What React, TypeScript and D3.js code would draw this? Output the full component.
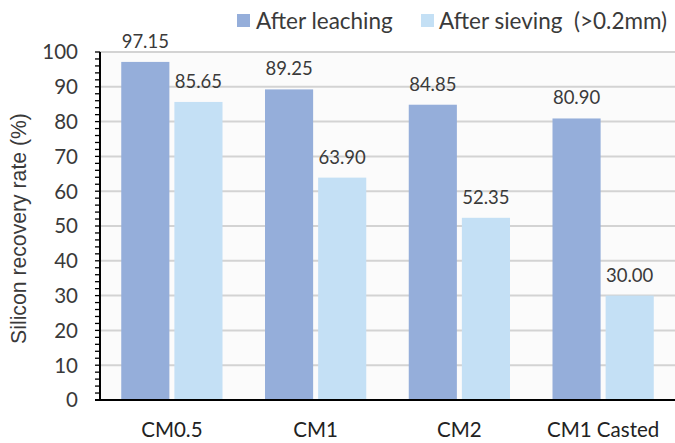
import React from "react";
import * as d3 from "d3";

const categories = ["CM0.5", "CM1", "CM2", "CM1 Casted"];
const seriesNames = ["After leaching", "After sieving  (>0.2mm)"];
const afterLeaching = [97.15, 89.25, 84.85, 80.9];
const afterSieving = [85.65, 63.9, 52.35, 30.0];
const yTicks = [0, 10, 20, 30, 40, 50, 60, 70, 80, 90, 100];
const minorTicks = d3.range(0, 101, 2);
const colors = ["#95AEDA", "#C4E0F5"];

const W = 675;
const H = 443;
const m = { left: 100, right: 0, top: 52, bottom: 43 };

export default function App() {
  const x0 = d3
    .scaleBand<string>()
    .domain(categories)
    .range([m.left, W - m.right])
    .paddingInner(0)
    .paddingOuter(0);
  const x1 = d3
    .scaleBand<number>()
    .domain([0, 1])
    .range([0, x0.bandwidth()])
    .paddingInner(0.094)
    .paddingOuter(0.4);
  const y = d3.scaleLinear().domain([0, 100]).range([H - m.bottom, m.top]);
  const series = [afterLeaching, afterSieving];
  const font = "Lato, 'Open Sans', sans-serif";
  const txt = "#3A3A3A";

  return (
    <svg
      width={W}
      height={H}
      style={{ position: "absolute", left: 0, top: 0, background: "#fff" }}
    >
      <rect x={m.left} y={m.top} width={W - m.left - m.right} height={y(0) - m.top} fill="#FBFBFB" />
      {yTicks.map((t) => (
        <line key={t} x1={m.left} x2={W} y1={y(t)} y2={y(t)} stroke="#D3D3D3" strokeWidth={2} />
      ))}
      {series.map((vals, si) =>
        categories.map((c, ci) => (
          <rect
            key={`${si}-${ci}`}
            x={(x0(c) as number) + (x1(si) as number)}
            y={y(vals[ci])}
            width={x1.bandwidth()}
            height={y(0) - y(vals[ci])}
            fill={colors[si]}
          />
        ))
      )}
      {series.map((vals, si) =>
        categories.map((c, ci) => (
          <text
            key={`l-${si}-${ci}`}
            x={(x0(c) as number) + (x1(si) as number) + x1.bandwidth() / 2}
            y={y(vals[ci]) - 14}
            textAnchor="middle"
            fontFamily={font}
            fontSize={18.5}
            fill={txt}
          >
            {vals[ci].toFixed(2)}
          </text>
        ))
      )}
      {/* y axis */}
      {minorTicks.map((t) => (
        <line key={`mt${t}`} x1={m.left - 5} x2={m.left} y1={y(t)} y2={y(t)} stroke="#000" strokeWidth={1.3} />
      ))}
      <line x1={m.left} x2={m.left} y1={y(100)} y2={y(0)} stroke="#000" strokeWidth={2} />
      <line x1={m.left - 5} x2={W} y1={y(0)} y2={y(0)} stroke="#000" strokeWidth={2} />
      {yTicks.map((t) => (
        <text
          key={`yt${t}`}
          x={m.left - 22}
          y={y(t)}
          dy="0.36em"
          textAnchor="end"
          fontFamily={font}
          fontSize={20.5}
          fill={txt}
        >
          {t}
        </text>
      ))}
      {categories.map((c) => (
        <text
          key={`xc${c}`}
          x={(x0(c) as number) + x0.bandwidth() / 2}
          y={y(0) + 37}
          textAnchor="middle"
          fontFamily={font}
          fontSize={20.5}
          fill="#222"
        >
          {c}
        </text>
      ))}
      <text
        transform={`translate(26,228.5) rotate(-90)`}
        textAnchor="middle"
        fontFamily="'Liberation Sans', Arial, sans-serif"
        fontSize={21.2}
        fill={txt}
      >
        Silicon recovery rate (%)
      </text>
      {/* legend */}
      <rect x={237} y={14} width={13} height={13} fill={colors[0]} />
      <text x={256} y={29} fontFamily={font} fontSize={22.5} fill={txt}>
        {seriesNames[0]}
      </text>
      <rect x={421} y={14} width={13} height={13} fill={colors[1]} />
      <text x={439} y={29} fontFamily={font} fontSize={22.5} fill={txt} style={{ whiteSpace: "pre" }}>
        {seriesNames[1]}
      </text>
    </svg>
  );
}
